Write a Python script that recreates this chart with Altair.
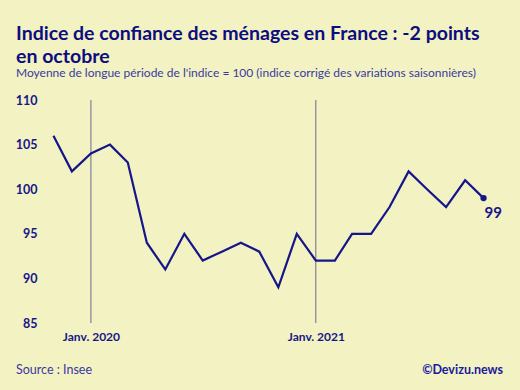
import altair as alt
import pandas as pd

months = ["2019-11-01", "2019-12-01",
          "2020-01-01", "2020-02-01", "2020-03-01", "2020-04-01", "2020-05-01", "2020-06-01",
          "2020-07-01", "2020-08-01", "2020-09-01", "2020-10-01", "2020-11-01", "2020-12-01",
          "2021-01-01", "2021-02-01", "2021-03-01", "2021-04-01", "2021-05-01", "2021-06-01",
          "2021-07-01", "2021-08-01", "2021-09-01", "2021-10-01"]
values = [106, 102,
          104, 105, 103, 94, 91, 95,
          92, 93, 94, 93, 89, 95,
          92, 92, 95, 95, 98, 102,
          100, 98, 101, 99]
marker_dates = ["2020-01-01", "2021-01-01"]
y_ticks = [85, 90, 95, 100, 105, 110]

NAVY = "#16168a"
BG = "#f2f2c2"
FONT = "Lato"

df = pd.DataFrame({"date": pd.to_datetime(months), "value": values})
last = df.tail(1)
rules_df = pd.DataFrame({"date": pd.to_datetime(marker_dates)})

x_scale = alt.Scale(domain=["2019-10-15", "2021-10-31"])
y_scale = alt.Scale(domain=[85, 110], nice=False, zero=False)

x_enc = alt.X("date:T", scale=x_scale,
              axis=alt.Axis(values=[pd.Timestamp(d).isoformat() for d in marker_dates],
                            labelExpr="'Janv. ' + timeFormat(datum.value, '%Y')",
                            title=None, grid=False, domain=False, ticks=False,
                            labelFont=FONT, labelFontWeight="bold", labelFontSize=12,
                            labelColor=NAVY, labelPadding=8))
y_enc = alt.Y("value:Q", scale=y_scale,
              axis=alt.Axis(values=y_ticks, title=None, grid=False, domain=False, ticks=False,
                            labelFont=FONT, labelFontWeight="bold", labelFontSize=12.5,
                            labelColor=NAVY, labelPadding=6))

rules = alt.Chart(rules_df).mark_rule(color="#6a6a98", strokeWidth=1).encode(
    x=alt.X("date:T", scale=x_scale), y=alt.value(0), y2=alt.value(223))

line = alt.Chart(df).mark_line(color=NAVY, strokeWidth=2.2).encode(x=x_enc, y=y_enc)

dot = alt.Chart(last).mark_circle(color=NAVY, size=40, opacity=1).encode(
    x=alt.X("date:T", scale=x_scale), y=alt.Y("value:Q", scale=y_scale))

lbl = alt.Chart(last).mark_text(color=NAVY, font=FONT, fontWeight="bold", fontSize=15,
                                align="left", dx=1, dy=15).encode(
    x=alt.X("date:T", scale=x_scale), y=alt.Y("value:Q", scale=y_scale),
    text=alt.Text("value:Q"))

foot_df = pd.DataFrame({"t": ["Source : Insee"]})
source = alt.Chart(foot_df).mark_text(color="#3a3aa0", font=FONT, fontSize=12.5,
                                      align="left", baseline="middle").encode(
    x=alt.value(-27), y=alt.value(270), text="t:N")
cred_df = pd.DataFrame({"t": ["©Devizu.news"]})
credit = alt.Chart(cred_df).mark_text(color="#1a1aa0", font=FONT, fontWeight="bold", fontSize=12.5,
                                      align="right", baseline="middle").encode(
    x=alt.value(460), y=alt.value(270), text="t:N")

chart = alt.layer(rules, line, dot, lbl, source, credit).properties(
    width=459, height=223,
    autosize=alt.AutoSizeParams(type="none"),
    padding={"left": 43, "top": 100, "right": 18, "bottom": 67},
    background=BG,
    title=alt.TitleParams(
        text=["Indice de confiance des ménages en France : -2 points", "en octobre"],
        subtitle="Moyenne de longue période de l'indice = 100 (indice corrigé des variations saisonnières)",
        anchor="start", frame="group", dx=-27, offset=14,
        font=FONT, fontSize=19.5, fontWeight="bold", color="#0d0d80", lineHeight=23,
        subtitleFont=FONT, subtitleFontSize=12, subtitleColor="#3a3aa0", subtitlePadding=1),
).configure_view(stroke=None)

chart.save("out.html", embed_options={"renderer": "svg", "actions": False})
